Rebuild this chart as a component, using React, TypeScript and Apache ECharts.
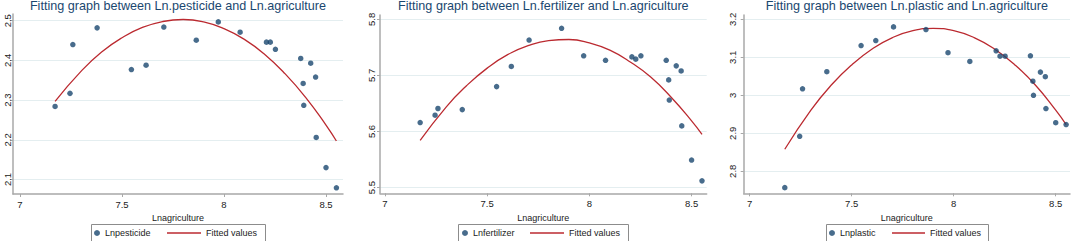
import React, { useEffect, useRef } from 'react';
import * as echarts from 'echarts';

// ---------- data ----------
const agriculture = [7.172, 7.245, 7.259, 7.378, 7.546, 7.618, 7.705, 7.864, 7.972, 8.079, 8.208, 8.227, 8.252, 8.376, 8.388, 8.391, 8.425, 8.449, 8.452, 8.5, 8.551];
const pesticide = [2.284, 2.317, 2.44, 2.482, 2.377, 2.388, 2.484, 2.451, 2.497, 2.471, 2.446, 2.446, 2.428, 2.405, 2.342, 2.287, 2.393, 2.358, 2.206, 2.13, 2.079];
const fertilizer = [5.616, 5.629, 5.641, 5.639, 5.68, 5.716, 5.763, 5.784, 5.735, 5.727, 5.733, 5.729, 5.735, 5.727, 5.692, 5.656, 5.717, 5.708, 5.61, 5.549, 5.512];
const plastic = [2.757, 2.892, 3.017, 3.062, 3.131, 3.144, 3.18, 3.173, 3.112, 3.089, 3.117, 3.103, 3.103, 3.104, 3.037, 3.0, 3.061, 3.049, 2.965, 2.928, 2.923];

const fitX = [7.172, 7.3, 7.4, 7.5, 7.6, 7.7, 7.8, 7.9, 8.0, 8.1, 8.2, 8.3, 8.4, 8.5, 8.551];
const fitPesticide = [2.297, 2.373, 2.421, 2.457, 2.483, 2.498, 2.503, 2.497, 2.48, 2.453, 2.415, 2.366, 2.307, 2.237, 2.197];
const fitFertilizer = [5.584, 5.644, 5.682, 5.713, 5.737, 5.753, 5.762, 5.764, 5.758, 5.745, 5.724, 5.697, 5.661, 5.619, 5.595];
const fitPlastic = [2.858, 2.961, 3.027, 3.08, 3.122, 3.152, 3.17, 3.176, 3.17, 3.152, 3.122, 3.08, 3.027, 2.961, 2.923];

const xTicks = [7, 7.5, 8, 8.5];
const yTicksPesticide = [2.1, 2.2, 2.3, 2.4, 2.5];
const yTicksFertilizer = [5.5, 5.6, 5.7, 5.8];
const yTicksPlastic = [2.8, 2.9, 3, 3.1, 3.2];

const titles = [
  'Fitting graph between Ln.pesticide and Ln.agriculture',
  'Fitting graph between Ln.fertilizer and Ln.agriculture',
  'Fitting graph between Ln.plastic and Ln.agriculture',
];
const scatterNames = ['Lnpesticide', 'Lnfertilizer', 'Lnplastic'];
const fittedName = 'Fitted values';
const xName = 'Lnagriculture';

const scatterValues = [pesticide, fertilizer, plastic];
const fitValues = [fitPesticide, fitFertilizer, fitPlastic];
const yTicks = [yTicksPesticide, yTicksFertilizer, yTicksPlastic];

// ---------- layout ----------
const panels = [
  { left: 13, top: 14, width: 330, height: 180, xMin: 6.9657, xMax: 8.5833, yMin: 2.0635, yMax: 2.5169, yMargin: 1, box: [91.5, 265.5], dotLeft: 94, lineLeft: 167, lineW: 34 },
  { left: 380, top: 15, width: 326.7, height: 178.3, xMin: 6.9755, xMax: 8.574, yMin: 5.4898, yMax: 5.8077, yMargin: 4, box: [458.5, 628.5], dotLeft: 462, lineLeft: 530, lineW: 34 },
  { left: 743.7, top: 15, width: 326.3, height: 178.3, xMin: 6.9706, xMax: 8.57, yMin: 2.7421, yMax: 3.2113, yMargin: 6.5, box: [826.5, 988.5], dotLeft: 829, lineLeft: 892, lineW: 33 },
];

const FONT = '"Liberation Sans", Arial, Helvetica, sans-serif';
const NAVY = '#1a476f';
const RED = '#bb2a30';
const AXIS = '#a8a8a8';
const GRID = '#e4eef0';
const TEXT = '#222222';
const LEGEND_TOP = 228.5;

export default function App() {
  const ref = useRef<HTMLDivElement>(null);

  useEffect(() => {
    if (!ref.current) return;
    const chart = echarts.init(ref.current, undefined, { renderer: 'svg' });

    const grid: any[] = [];
    const xAxis: any[] = [];
    const yAxis: any[] = [];
    const series: any[] = [];
    const legend: any[] = [];
    const graphic: any[] = [];

    panels.forEach((p, i) => {
      grid.push({ left: p.left, top: p.top, width: p.width, height: p.height, containLabel: false });
      xAxis.push({
        type: 'value',
        gridIndex: i,
        min: p.xMin,
        max: p.xMax,
        name: xName,
        nameLocation: 'middle',
        nameGap: 13,
        nameTextStyle: { fontSize: 9, color: TEXT, fontFamily: FONT },
        axisLine: { show: true, onZero: false, lineStyle: { color: AXIS, width: 1.5 } },
        axisTick: { show: true, length: 3, customValues: xTicks, lineStyle: { color: AXIS, width: 1 } },
        axisLabel: { customValues: xTicks, margin: 5, fontSize: 9.5, color: TEXT, fontFamily: FONT },
        splitLine: { show: false },
      });
      yAxis.push({
        type: 'value',
        gridIndex: i,
        min: p.yMin,
        max: p.yMax,
        axisLine: { show: true, onZero: false, lineStyle: { color: AXIS, width: 1.5 } },
        axisTick: { show: true, length: 3, customValues: yTicks[i], lineStyle: { color: AXIS, width: 1 } },
        axisLabel: { customValues: yTicks[i], rotate: 90, margin: p.yMargin, fontSize: 9.5, color: TEXT, fontFamily: FONT },
        splitLine: { show: true, lineStyle: { color: GRID, width: 1 } },
      });
      series.push({
        type: 'scatter',
        name: scatterNames[i],
        xAxisIndex: i,
        yAxisIndex: i,
        symbol: 'circle',
        symbolSize: 5.5,
        itemStyle: { color: NAVY },
        data: agriculture.map((x, k) => [x, scatterValues[i][k]]),
        z: 3,
      });
      series.push({
        type: 'line',
        name: fittedName,
        xAxisIndex: i,
        yAxisIndex: i,
        symbol: 'none',
        smooth: true,
        lineStyle: { color: RED, width: 1.3 },
        itemStyle: { color: RED },
        data: fitX.map((x, k) => [x, fitValues[i][k]]),
        z: 2,
      });
      legend.push({
        data: [scatterNames[i]],
        left: p.dotLeft,
        top: LEGEND_TOP,
        padding: 0,
        itemWidth: 6,
        itemHeight: 6,
        icon: 'circle',
        selectedMode: false,
        textStyle: { fontSize: 9, color: TEXT, fontFamily: FONT },
      });
      legend.push({
        data: [{ name: fittedName, icon: 'rect', itemStyle: { color: RED } }],
        left: p.lineLeft,
        top: LEGEND_TOP,
        padding: 0,
        itemWidth: p.lineW,
        itemHeight: 1.4,
        selectedMode: false,
        textStyle: { fontSize: 9, color: TEXT, fontFamily: FONT },
      });
      graphic.push({
        type: 'text',
        x: p.left + p.width / 2,
        y: 5.5,
        style: {
          text: titles[i],
          fontSize: 12.6,
          fontFamily: FONT,
          fill: NAVY,
          align: 'center',
          verticalAlign: 'middle',
        },
      });
      graphic.push({
        type: 'rect',
        shape: { x: p.box[0], y: 224.5, width: p.box[1] - p.box[0], height: 20 },
        style: { fill: 'none', stroke: '#8c8c8c', lineWidth: 1 },
      });
    });

    chart.setOption({
      animation: false,
      backgroundColor: '#ffffff',
      grid,
      xAxis,
      yAxis,
      series,
      legend,
      graphic,
    });

    return () => chart.dispose();
  }, []);

  return (
    <div
      ref={ref}
      style={{ position: 'fixed', left: 0, top: 0, width: 1072, height: 241, background: '#fff' }}
    />
  );
}
